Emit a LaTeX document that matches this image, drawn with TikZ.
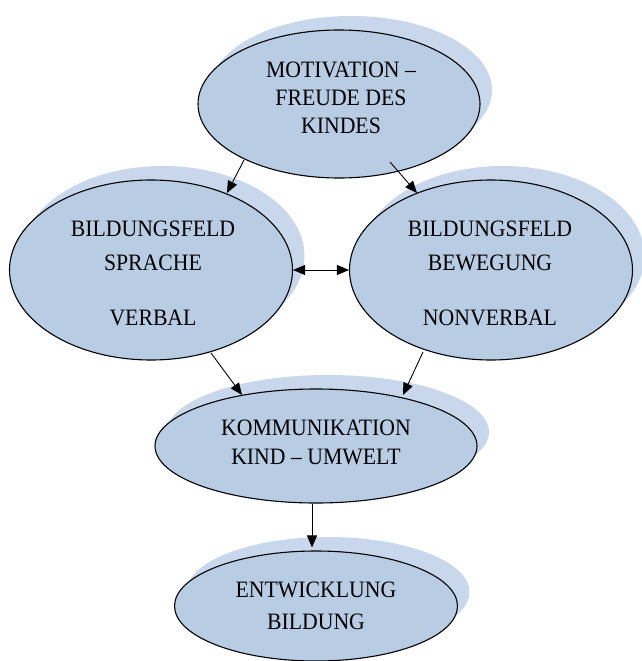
\documentclass[tikz,border=0pt]{standalone}
\usepackage{fontspec}
\setmainfont{Liberation Serif}
\newfontfamily\diagfont[FakeStretch=0.925]{Liberation Serif}
\usetikzlibrary{shapes.geometric,shadows,arrows.meta,calc}
\definecolor{ellfill}{HTML}{B8CCE4}
\definecolor{ellshadow}{HTML}{C8D7EB}
\begin{document}
\begin{tikzpicture}[x=1pt,y=-1pt,
 ell/.style={ellipse, draw=black, line width=1.1pt, fill=ellfill, inner sep=0pt,
   drop shadow={shadow xshift=12pt, shadow yshift=14pt, fill=ellshadow, opacity=1, draw=none}},
 txt/.style={font=\diagfont\fontsize{23.5}{28}\selectfont, align=center, inner sep=0pt},
 arr/.style={-{Triangle[length=12pt,width=10pt]}, line width=0.9pt},
 darr/.style={{Triangle[length=12pt,width=10pt]}-{Triangle[length=12pt,width=10pt]}, line width=0.9pt}]
\useasboundingbox (0,0) rectangle (641,661);

\node[ell, minimum width=282pt, minimum height=148pt] (motiv) at (339,104) {};
\node[ell, minimum width=283pt, minimum height=180pt] (sprache) at (151,270) {};
\node[ell, minimum width=283pt, minimum height=180pt] (beweg) at (491,270) {};
\node[ell, minimum width=322pt, minimum height=114pt] (komm) at (316,446) {};
\node[ell, minimum width=283pt, minimum height=110pt] (entw) at (316,606) {};

\node[txt] (motivtext) at (341,98) {MOTIVATION –\\FREUDE DES\\KINDES};
\node[txt] (sprachetext) at (153,273.5) {BILDUNGSFELD\\[6pt]SPRACHE\\[27pt]VERBAL};
\node[txt] (bewegtext) at (490,273.5) {BILDUNGSFELD\\[6pt]BEWEGUNG\\[27pt]NONVERBAL};
\node[txt] (kommtext) at (316,442.5) {KOMMUNIKATION\\[1pt]KIND – UMWELT};
\node[txt] (entwtext) at (316,606) {ENTWICKLUNG\\[4pt]BILDUNG};

\draw[arr] ($(motiv.center)+(-95,56)$) -- ($(sprache.center)+(76,-77)$);
\draw[arr] ($(motiv.center)+(51,58)$) -- ($(beweg.center)+(-74,-77)$);
\draw[darr] (sprache.east) -- (beweg.west);
\draw[arr] ($(sprache.center)+(60,83)$) -- ($(komm.center)+(-74,-51)$);
\draw[arr] ($(beweg.center)+(-68,82)$) -- ($(komm.center)+(87,-51)$);
\draw[arr] ($(komm.south)+(-4,0)$) -- ($(entw.north)+(-4,-3)$);
\end{tikzpicture}
\end{document}
